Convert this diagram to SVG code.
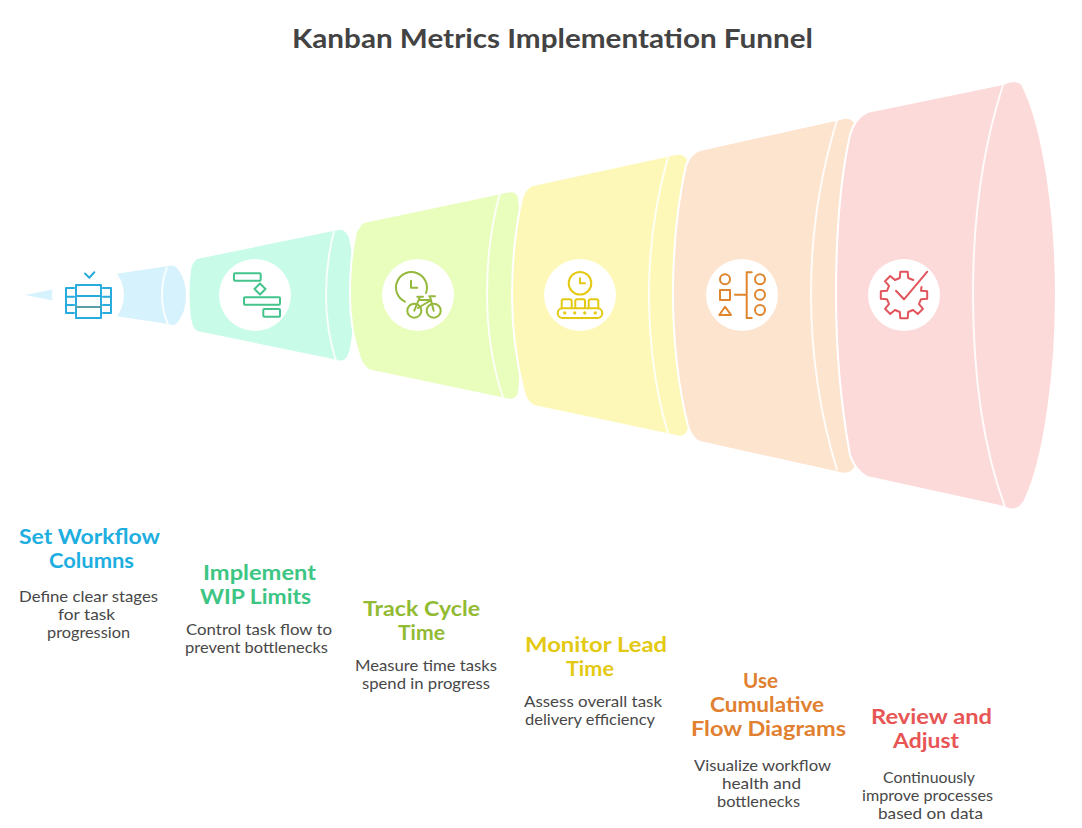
<svg xmlns="http://www.w3.org/2000/svg" width="1082" height="828" viewBox="0 0 1082 828">
<style>
text{font-family:"Lato","Noto Sans","Liberation Sans",sans-serif}
.title{font-size:26px;font-weight:700;fill:#434343}
.h{font-size:20px;font-weight:700}
.b{font-size:15px;fill:#484848}
.seg{stroke:#fff;stroke-width:2;stroke-linejoin:round}
.seam{fill:none;stroke:#fff;stroke-width:2;opacity:.85}
.disc{fill:#fff}
.ic{fill:none;stroke-width:2;stroke-linecap:round;stroke-linejoin:round}
.c1{stroke:#2aabdd}.c2{stroke:#44c48c}.c3{stroke:#95b93c}.c4{stroke:#e3c912}.c5{stroke:#e0852f}.c6{stroke:#e2545c}
.t1{fill:#1eaee0}.t2{fill:#3cc583}.t3{fill:#92ba33}.t4{fill:#e3c912}.t5{fill:#e08030}.t6{fill:#e85555}
</style>
<rect width="1082" height="828" fill="#fff"/>
<text class="title" x="292" y="48" textLength="521" lengthAdjust="spacingAndGlyphs">Kanban Metrics Implementation Funnel</text>

<g id="node-1">
<path d="M25 295L60 288V302Z" fill="#d6f2fc"/>
<path class="seg" fill="#d6f2fc" d="M115 273L168 265Q175 263 179 269Q187 280 187 295Q187 312 179 322Q175 328 168 325L115 317Z"/>
<path class="seam" d="M167 267Q162 280 162 295Q162 311 168 324"/>
<circle class="disc" cx="88" cy="295" r="36"/>
<path class="ic c1" d="M85 273.5L89.3 277.7L94.3 272.3M76 285H101V318H76ZM76 296H101"/>
<path class="ic" stroke="#5a9fa8" d="M76 307H101"/>
<path class="ic c1" d="M74 288H66V313H74M66 296.7H74M66 305H74M103 288H111V313H103M103 296.7H111M103 305H111"/>
<text class="h t1" x="19" y="544" textLength="141" lengthAdjust="spacingAndGlyphs">Set Workflow</text>
<text class="h t1" x="49" y="568" textLength="85" lengthAdjust="spacingAndGlyphs">Columns</text>
<text class="b" x="19" y="602" textLength="139" lengthAdjust="spacingAndGlyphs">Define clear stages</text>
<text class="b" x="58" y="620" textLength="57" lengthAdjust="spacingAndGlyphs">for task</text>
<text class="b" x="47" y="638" textLength="83" lengthAdjust="spacingAndGlyphs">progression</text>
</g>

<g id="node-2">
<path class="seg" fill="#c8fbe8" d="M197 258L338 229Q346 227 350 238Q355 260 355 295Q355 332 350 352Q346 364 338 361L197 332Q192 330 190 318Q187 295 190 270Q192 260 197 258Z"/>
<path class="seam" d="M334 231Q326 262 326 295Q326 330 336 361"/>
<circle class="disc" cx="255" cy="295" r="36"/>
<g class="ic c2">
<rect x="234" y="273.3" width="26.7" height="7.4" rx="1"/>
<path d="M260 283.5L265.5 289L260 294.5L254.5 289Z"/>
<rect x="244" y="297.3" width="36" height="7.4" rx="1"/>
<rect x="263.3" y="309" width="16.7" height="7.7" rx="1"/>
</g>
<text class="h t2" x="203" y="580" textLength="113" lengthAdjust="spacingAndGlyphs">Implement</text>
<text class="h t2" x="200" y="604" textLength="111" lengthAdjust="spacingAndGlyphs">WIP Limits</text>
<text class="b" x="186" y="635" textLength="146" lengthAdjust="spacingAndGlyphs">Control task flow to</text>
<text class="b" x="185" y="653" textLength="143" lengthAdjust="spacingAndGlyphs">prevent bottlenecks</text>
</g>

<g id="node-3">
<path class="seg" fill="#e9fdbd" d="M364 222L506 192Q516 189 519 197Q523 240 523 295Q523 350 519 393Q516 402 506 399L372 371Q364 369 360 358Q350 330 350 295Q350 258 356 232Q360 224 364 222Z"/>
<path class="seam" d="M500 193Q487 240 487 293Q487 350 503 397"/>
<circle class="disc" cx="418" cy="295" r="36"/>
<g class="ic c3">
<path d="M405 301.7A15.5 15.5 0 1 1 426 293M411 280.7V287.7H417.3"/>
<circle cx="414.3" cy="310.7" r="7"/>
<circle cx="433.7" cy="310.7" r="7"/>
<path d="M417.3 296.7H423M429.3 296.3H435M420 296.7L414.3 310.7M420 300H431.3M430 296.7L433.7 310.7M431.3 300L418 308"/>
</g>
<text class="h t3" x="363" y="616" textLength="117" lengthAdjust="spacingAndGlyphs">Track Cycle</text>
<text class="h t3" x="398" y="640" textLength="47" lengthAdjust="spacingAndGlyphs">Time</text>
<text class="b" x="355" y="671" textLength="142" lengthAdjust="spacingAndGlyphs">Measure time tasks</text>
<text class="b" x="362" y="689" textLength="128" lengthAdjust="spacingAndGlyphs">spend in progress</text>
</g>

<g id="node-4">
<path class="seg" fill="#fef8b8" d="M533 185L676 154Q686 152 689 162Q694 230 694 295Q694 370 689 428Q686 439 676 436L534 406Q527 403 524 392Q512 345 512 295Q512 245 522 198Q526 187 533 185Z"/>
<path class="seam" d="M668 157Q649 225 649 293Q649 370 668 433"/>
<circle class="disc" cx="580" cy="295" r="36"/>
<g class="ic c4">
<circle cx="580" cy="283.3" r="11.3"/>
<path d="M580 278.3V283.3H585"/>
<path d="M561.7 308V301.3Q561.7 299.3 563.7 299.3H569.7Q571.7 299.3 571.7 301.3V308M575.3 308V301.3Q575.3 299.3 577.3 299.3H583Q585 299.3 585 301.3V308M588.7 308V301.3Q588.7 299.3 590.7 299.3H596.3Q598.3 299.3 598.3 301.3V308"/>
<rect x="557.7" y="308.3" width="44.6" height="9.7" rx="4.8"/>
</g>
<g fill="#e3c912">
<circle cx="564.7" cy="312.9" r="1.6"/><circle cx="574.7" cy="312.9" r="1.6"/><circle cx="584.7" cy="312.9" r="1.6"/><circle cx="595.3" cy="312.9" r="1.6"/>
</g>
<text class="h t4" x="525" y="652" textLength="142" lengthAdjust="spacingAndGlyphs">Monitor Lead</text>
<text class="h t4" x="566" y="676" textLength="48" lengthAdjust="spacingAndGlyphs">Time</text>
<text class="b" x="524" y="707" textLength="138" lengthAdjust="spacingAndGlyphs">Assess overall task</text>
<text class="b" x="525" y="725" textLength="130" lengthAdjust="spacingAndGlyphs">delivery efficiency</text>
</g>

<g id="node-5">
<path class="seg" fill="#fde4cf" d="M700 150L840 119Q851 115 856 124Q862 200 862 295Q862 390 856 466Q851 476 840 473L700 442Q692 439 688 426Q673 365 673 293Q673 225 686 165Q691 153 700 150Z"/>
<path class="seam" d="M837 120Q811 205 811 293Q811 385 837 470"/>
<circle class="disc" cx="742" cy="295" r="36"/>
<g class="ic c5">
<circle cx="725" cy="279.3" r="5"/>
<rect x="720" y="290" width="10" height="10"/>
<path d="M725 306.7L731 315H719.3Z"/>
<path d="M735 294.7H746.7M751.7 272.3H746.7V318H751.7"/>
<circle cx="760" cy="279.3" r="5"/>
<circle cx="760" cy="294.7" r="5"/>
<circle cx="760" cy="310" r="5"/>
</g>
<text class="h t5" x="743" y="688" textLength="35" lengthAdjust="spacingAndGlyphs">Use</text>
<text class="h t5" x="710" y="712" textLength="114" lengthAdjust="spacingAndGlyphs">Cumulative</text>
<text class="h t5" x="691" y="736" textLength="155" lengthAdjust="spacingAndGlyphs">Flow Diagrams</text>
<text class="b" x="694" y="771" textLength="137" lengthAdjust="spacingAndGlyphs">Visualize workflow</text>
<text class="b" x="722" y="789" textLength="79" lengthAdjust="spacingAndGlyphs">health and</text>
<text class="b" x="717" y="807" textLength="83" lengthAdjust="spacingAndGlyphs">bottlenecks</text>
</g>

<g id="node-6">
<path class="seg" fill="#fddada" d="M867 112L1003 84Q1015 78 1022 84C1045 130 1056 220 1056 295C1056 370 1045 460 1024 502Q1016 514 1004 507L867 477Q855 470 850 455C840 400 836 340 836 295C836 240 840 180 850 135Q855 118 867 112Z"/>
<path class="seam" d="M1003 85C982 150 973 220 973 293C973 370 982 445 1005 507"/>
<circle class="disc" cx="904" cy="295" r="36"/>
<path class="ic c6" d="M896 290.7L904 299.3L927.3 271.7"/>
<path class="ic c6" transform="translate(904 295)" d="M17.5 -8L17 -4.2L23.2 -3.7V3.7L17 4.2L15 9.05L19 13.8L13.8 19L9.05 15L4.2 17L3.7 23.2H-3.7L-4.2 17L-9.05 15L-13.8 19L-19 13.8L-15 9.05L-17 4.2L-23.2 3.7V-3.7L-17 -4.2L-15 -9.05L-19 -13.8L-13.8 -19L-9.05 -15L-4.2 -17L-3.7 -23.2H3.7L4.2 -17L9.3 -15"/>
<text class="h t6" x="871" y="724" textLength="121" lengthAdjust="spacingAndGlyphs">Review and</text>
<text class="h t6" x="893" y="748" textLength="66" lengthAdjust="spacingAndGlyphs">Adjust</text>
<text class="b" x="883" y="783" textLength="92" lengthAdjust="spacingAndGlyphs">Continuously</text>
<text class="b" x="862" y="801" textLength="131" lengthAdjust="spacingAndGlyphs">improve processes</text>
<text class="b" x="878" y="819" textLength="105" lengthAdjust="spacingAndGlyphs">based on data</text>
</g>
</svg>
